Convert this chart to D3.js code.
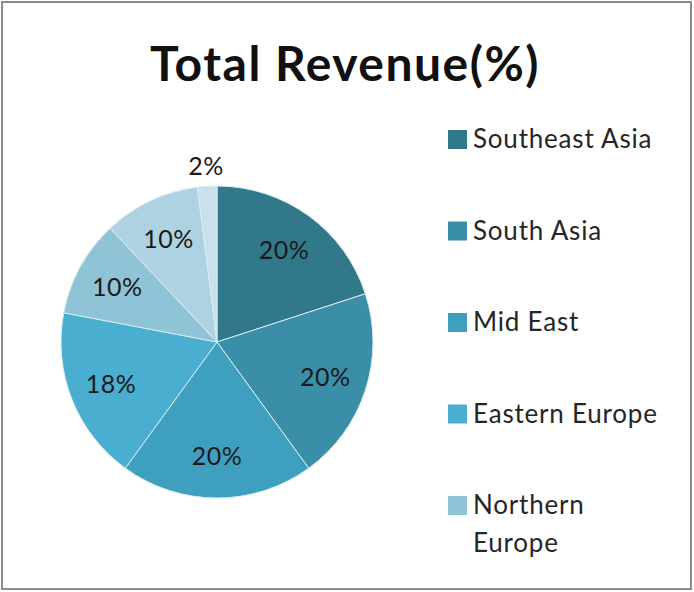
<!DOCTYPE html>
<html>
<head>
<meta charset="utf-8">
<script src="https://cdn.jsdelivr.net/npm/d3@7"></script>
<style>
  html, body { margin: 0; padding: 0; background: #fff; }
  svg text { font-family: Lato, "Open Sans", sans-serif; }
</style>
</head>
<body>
<svg id="chart" width="694" height="592"></svg>
<script>
// chart data
var regions = ["Southeast Asia", "South Asia", "Mid East", "Eastern Europe", "Northern Europe", "Western Europe", "Other"];
var shares = [20, 20, 20, 18, 10, 10, 2];
var legendCount = 5; // the legend in the original only shows the first five
var colors = ["#31788b", "#3a8ea8", "#3f9fbf", "#49aed0", "#8ec4d6", "#aed2e2", "#c9e1ec"];

var width = 694, height = 592,
    cx = 217, cy = 342, r = 156;

var svg = d3.select("#chart");

svg.append("rect")
    .attr("x", 2).attr("y", 2)
    .attr("width", width - 5).attr("height", height - 5)
    .attr("fill", "#fff")
    .attr("stroke", "#8c8c8c")
    .attr("stroke-width", 2);

svg.append("text")
    .attr("x", 345).attr("y", 81)
    .attr("text-anchor", "middle")
    .attr("font-size", 48)
    .attr("font-weight", "bold")
    .attr("letter-spacing", 1.5)
    .attr("fill", "#111")
    .text("Total Revenue(%)");

var color = d3.scaleOrdinal().domain(regions).range(colors);

var pie = d3.pie().sort(null).value(function(d) { return d.value; });
var arcs = pie(regions.map(function(name, i) { return { name: name, value: shares[i] }; }));

var arc = d3.arc().innerRadius(0).outerRadius(r);
var labelArc = d3.arc().innerRadius(r * 0.73).outerRadius(r * 0.73);
var outerArc = d3.arc().innerRadius(r * 1.13).outerRadius(r * 1.13);

var g = svg.append("g").attr("transform", "translate(" + cx + "," + cy + ")");

g.selectAll("path")
    .data(arcs)
  .enter().append("path")
    .attr("d", arc)
    .attr("fill", function(d) { return color(d.data.name); })
    .attr("stroke", "#d8ecf2")
    .attr("stroke-width", 1);

g.selectAll("text.lbl")
    .data(arcs)
  .enter().append("text")
    .attr("class", "lbl")
    .attr("transform", function(d) {
      var p = (d.data.value < 5 ? outerArc : labelArc).centroid(d);
      return "translate(" + p + ")";
    })
    .attr("text-anchor", "middle")
    .attr("dy", "0.35em")
    .attr("font-size", 25)
    .attr("letter-spacing", 0.5)
    .attr("fill", "#1a1a1a")
    .text(function(d) { return d.data.value + "%"; });

// legend
var legendNames = regions.slice(0, legendCount);
var ly = d3.scalePoint().domain(legendNames).range([139, 505]);

var items = svg.selectAll("g.legend")
    .data(legendNames)
  .enter().append("g")
    .attr("class", "legend")
    .attr("transform", function(d) { return "translate(448," + ly(d) + ")"; });

items.append("rect")
    .attr("x", 0).attr("y", -9)
    .attr("width", 19).attr("height", 19)
    .attr("fill", function(d) { return color(d); });

items.append("text")
    .attr("x", 25)
    .attr("font-size", 26)
    .attr("letter-spacing", 0.8)
    .attr("fill", "#262626")
    .each(function(d) {
      var words = d === "Northern Europe" ? ["Northern", "Europe"] : [d];
      var t = d3.select(this);
      words.forEach(function(w, i) {
        t.append("tspan")
            .attr("x", 25)
            .attr("y", i * 38)
            .attr("dy", "0.35em")
            .text(w);
      });
    });
</script>
</body>
</html>
